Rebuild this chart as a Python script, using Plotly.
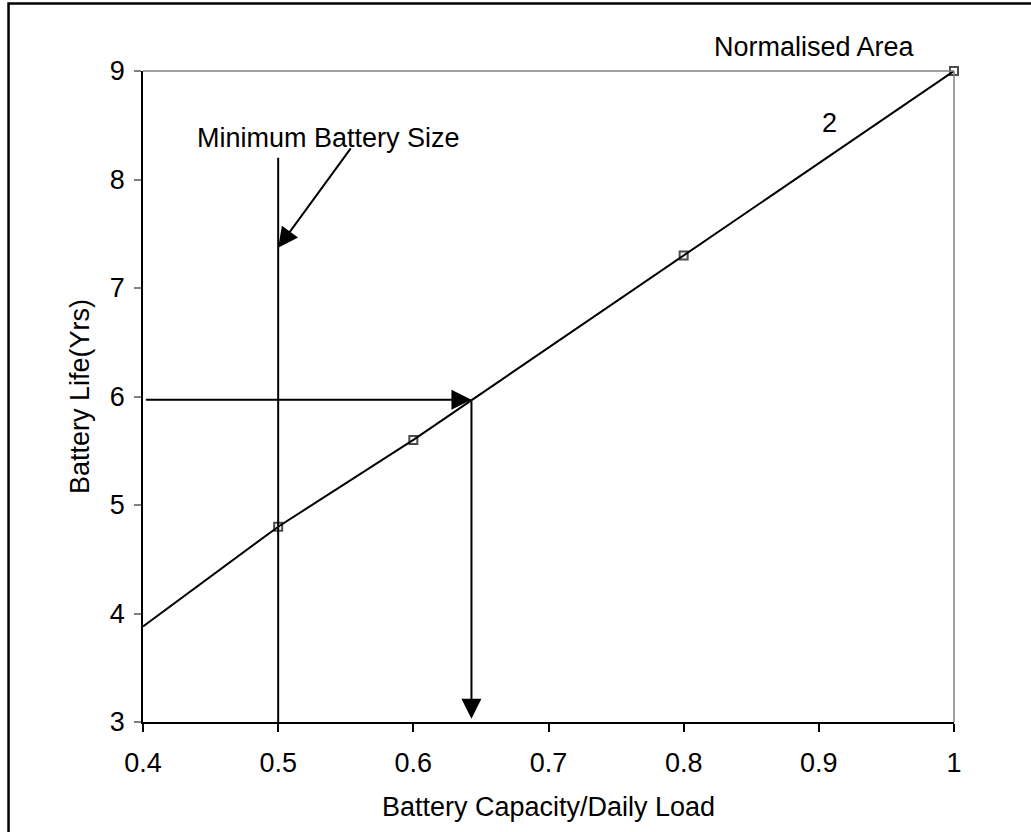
import plotly.graph_objects as go

# Battery life against normalised battery capacity (normalised area = 2)
capacity = [0.4, 0.5, 0.6, 0.8, 1.0]
battery_life = [3.88, 4.8, 5.6, 7.3, 9.0]
marker_sizes = [0, 8, 8, 8, 8]

x_tick_vals = [0.4, 0.5, 0.6, 0.7, 0.8, 0.9, 1.0]
x_tick_text = ["0.4", "0.5", "0.6", "0.7", "0.8", "0.9", "1"]
y_tick_vals = [3, 4, 5, 6, 7, 8, 9]
y_tick_text = ["3", "4", "5", "6", "7", "8", "9"]

# Reading of the design point and the minimum battery size
min_size = 0.5
min_size_top = 8.2
design_life = 5.97
design_capacity = 0.643
design_arrow_end = 3.03
min_label_x, min_label_y = 0.5375, 8.38
min_arrow_tail = (0.5545, 8.30)
min_arrow_tip_y = 7.37

FONT = "Liberation Sans, Arial, sans-serif"
FS = 27

fig = go.Figure()

fig.add_trace(go.Scatter(
    x=capacity, y=battery_life, mode="lines+markers",
    line=dict(color="black", width=2),
    marker=dict(symbol="square-open", size=marker_sizes, color="black",
                line=dict(color="black", width=2)),
    cliponaxis=False, showlegend=False,
))

# Minimum battery size vertical line
fig.add_trace(go.Scatter(
    x=[min_size, min_size], y=[3, min_size_top], mode="lines",
    line=dict(color="black", width=2), showlegend=False,
))

arrow_style = dict(showarrow=True, arrowhead=2, arrowsize=2, arrowwidth=2,
                   arrowcolor="black", text="", xref="x", yref="y",
                   axref="x", ayref="y", standoff=0, startstandoff=0)

annotations = [
    # horizontal arrow at the design life
    dict(x=design_capacity, y=design_life, ax=0.401, ay=design_life, **arrow_style),
    # vertical arrow down to the capacity axis
    dict(x=design_capacity, y=design_arrow_end, ax=design_capacity, ay=design_life, **arrow_style),
    # pointer from the label to the minimum size line
    dict(x=min_size, y=min_arrow_tip_y, ax=min_arrow_tail[0], ay=min_arrow_tail[1], **arrow_style),
    dict(x=min_label_x, y=min_label_y, xref="x", yref="y", text="Minimum Battery Size",
         showarrow=False, font=dict(family=FONT, size=FS, color="black")),
    dict(x=0.9077, y=8.52, xref="x", yref="y", text="2",
         showarrow=False, font=dict(family=FONT, size=FS, color="black")),
    dict(x=0.897, y=1.0369, xref="x", yref="paper", text="Normalised Area",
         xanchor="center", yanchor="middle",
         showarrow=False, font=dict(family=FONT, size=FS, color="black")),
]

shapes = [
    # top and right edges of the plot area
    dict(type="line", xref="paper", yref="paper", x0=0, x1=1, y0=1, y1=1,
         line=dict(color="#808080", width=1.5)),
    dict(type="line", xref="paper", yref="paper", x0=1, x1=1, y0=0, y1=1,
         line=dict(color="#808080", width=1.5)),
    # outer frame
    dict(type="rect", xref="paper", yref="paper", x0=-0.1658, x1=1.3, y0=-0.3, y1=1.1037,
         line=dict(color="black", width=2.5), fillcolor="rgba(0,0,0,0)"),
]

fig.update_layout(
    width=1031, height=832,
    margin=dict(l=143, r=77, t=71, b=110),
    paper_bgcolor="white", plot_bgcolor="white",
    font=dict(family=FONT, size=FS, color="black"),
    annotations=annotations, shapes=shapes,
    xaxis=dict(
        range=[0.4, 1.0], tickvals=x_tick_vals, ticktext=x_tick_text,
        showgrid=False, zeroline=False, showline=True, linecolor="black", linewidth=1.5,
        ticks="outside", ticklen=8, tickwidth=1.5, tickcolor="black",
        ticklabelstandoff=8,
        tickfont=dict(family=FONT, size=FS, color="black"),
        title=dict(text="Battery Capacity/Daily Load", standoff=20,
                   font=dict(family=FONT, size=FS, color="black")),
    ),
    yaxis=dict(
        range=[3, 9], tickvals=y_tick_vals, ticktext=y_tick_text,
        showgrid=False, zeroline=False, showline=True, linecolor="black", linewidth=1.5,
        ticks="outside", ticklen=7, tickwidth=1.5, tickcolor="#808080",
        ticklabelstandoff=4,
        tickfont=dict(family=FONT, size=FS, color="black"),
        title=dict(text="Battery Life(Yrs)", standoff=12,
                   font=dict(family=FONT, size=FS, color="black")),
    ),
)

fig.write_html("out.html")
